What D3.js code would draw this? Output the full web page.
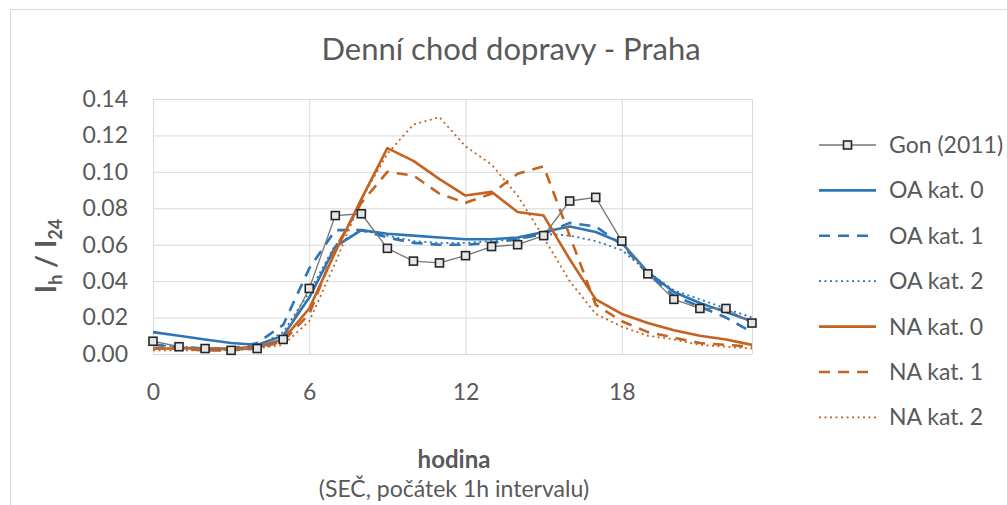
<!DOCTYPE html>
<html lang="cs">
<head>
<meta charset="UTF-8">
<title>Denní chod dopravy - Praha</title>
<script src="https://cdn.jsdelivr.net/npm/d3@7"></script>
<style>
  body { margin: 0; background: #fff; }
  text { font-family: Lato, "Liberation Sans", sans-serif; fill: #595959; }
</style>
</head>
<body>
<svg id="chart" width="1007" height="505"></svg>
<script>
// hodiny (začátek 1h intervalu)
var hours = [0,1,2,3,4,5,6,7,8,9,10,11,12,13,14,15,16,17,18,19,20,21,22,23];
var xTicks = [0, 6, 12, 18];
var yTicks = [0, 0.02, 0.04, 0.06, 0.08, 0.10, 0.12, 0.14];

// hodnoty Ih / I24
var gon = [0.007,0.004,0.003,0.002,0.003,0.008,0.036,0.076,0.077,0.058,0.051,0.050,0.054,0.059,0.060,0.065,0.084,0.086,0.062,0.044,0.030,0.025,0.025,0.017];
var oa0 = [0.012,0.010,0.008,0.006,0.005,0.010,0.031,0.059,0.068,0.066,0.065,0.064,0.063,0.063,0.064,0.067,0.070,0.067,0.061,0.045,0.034,0.028,0.023,0.018];
var oa1 = [0.005,0.004,0.003,0.003,0.006,0.016,0.047,0.068,0.068,0.064,0.061,0.060,0.060,0.061,0.063,0.066,0.072,0.070,0.060,0.044,0.032,0.026,0.020,0.012];
var oa2 = [0.005,0.004,0.003,0.003,0.004,0.012,0.034,0.060,0.068,0.065,0.062,0.061,0.061,0.062,0.063,0.066,0.065,0.062,0.057,0.045,0.035,0.030,0.025,0.020];
var na0 = [0.003,0.003,0.003,0.003,0.004,0.008,0.025,0.056,0.085,0.113,0.106,0.096,0.087,0.089,0.078,0.076,0.052,0.030,0.022,0.017,0.013,0.010,0.008,0.005];
var na1 = [0.003,0.003,0.002,0.002,0.003,0.007,0.022,0.058,0.083,0.100,0.098,0.088,0.083,0.088,0.099,0.103,0.065,0.027,0.018,0.012,0.009,0.006,0.005,0.004];
var na2 = [0.002,0.002,0.002,0.002,0.003,0.005,0.018,0.050,0.085,0.110,0.126,0.130,0.114,0.104,0.087,0.064,0.040,0.022,0.015,0.010,0.008,0.005,0.004,0.003];

var blue = '#2e75b6', orange = '#c5621f';

// řady v pořadí legendy
var series = [
  { name: 'Gon (2011)', values: gon, color: '#767676', width: 1.3, dash: null, marker: true },
  { name: 'OA kat. 0', values: oa0, color: blue, width: 2.6, dash: null },
  { name: 'OA kat. 1', values: oa1, color: blue, width: 2.6, dash: '11,8' },
  { name: 'OA kat. 2', values: oa2, color: blue, width: 1.8, dash: '2,3.5' },
  { name: 'NA kat. 0', values: na0, color: orange, width: 2.6, dash: null },
  { name: 'NA kat. 1', values: na1, color: orange, width: 2.6, dash: '11,8' },
  { name: 'NA kat. 2', values: na2, color: orange, width: 1.8, dash: '2,3.5' }
];

var svg = d3.select('#chart');

// rámeček grafu
svg.append('rect')
  .attr('x', 10.5).attr('y', 9.5)
  .attr('width', 1100).attr('height', 600)
  .attr('fill', 'none').attr('stroke', '#d9d9d9');

var plotL = 153, plotR = 752, plotT = 99, plotB = 354;
var x = d3.scaleLinear().domain([0, 23]).range([plotL, plotR]);
var y = d3.scaleLinear().domain([0, 0.14]).range([plotB, plotT]);

// mřížka
svg.append('g')
  .attr('transform', 'translate(' + plotL + ',0)')
  .call(d3.axisLeft(y).tickValues(yTicks).tickSize(-(plotR - plotL)).tickFormat(''))
  .call(function (g) {
    g.select('.domain').remove();
    g.selectAll('line').attr('stroke', '#d9d9d9');
  });
svg.append('g')
  .attr('transform', 'translate(0,' + plotB + ')')
  .call(d3.axisBottom(x).tickValues(xTicks.concat([23])).tickSize(-(plotB - plotT)).tickFormat(''))
  .call(function (g) {
    g.select('.domain').remove();
    g.selectAll('line').attr('stroke', '#d9d9d9');
  });

// popisky os
svg.append('g')
  .attr('transform', 'translate(' + plotL + ',0)')
  .call(d3.axisLeft(y).tickValues(yTicks).tickSize(0).tickPadding(25).tickFormat(d3.format('.2f')))
  .call(function (g) {
    g.select('.domain').remove();
    g.selectAll('text').attr('font-size', 23).style('fill', '#595959')
      .style('font-family', 'Lato, sans-serif');
  });
svg.append('g')
  .attr('transform', 'translate(0,' + plotB + ')')
  .call(d3.axisBottom(x).tickValues(xTicks).tickSize(0).tickPadding(30).tickFormat(d3.format('d')))
  .call(function (g) {
    g.select('.domain').remove();
    g.selectAll('text').attr('font-size', 23).style('fill', '#595959')
      .style('font-family', 'Lato, sans-serif');
  });

// čáry
var line = d3.line()
  .x(function (d, i) { return x(hours[i]); })
  .y(function (d) { return y(d); });

// nejdřív modelové řady, Gon navrch
series.slice(1).concat([series[0]]).forEach(function (s) {
  svg.append('path')
    .datum(s.values)
    .attr('d', line)
    .attr('fill', 'none')
    .attr('stroke', s.color)
    .attr('stroke-width', s.width)
    .attr('stroke-dasharray', s.dash)
    .attr('stroke-linejoin', 'round');
  if (s.marker) {
    svg.selectAll('.gon')
      .data(s.values)
      .enter().append('rect')
      .attr('class', 'gon')
      .attr('x', function (d, i) { return x(hours[i]) - 4; })
      .attr('y', function (d) { return y(d) - 4; })
      .attr('width', 8).attr('height', 8)
      .attr('fill', '#e6e6e6')
      .attr('stroke', '#262626')
      .attr('stroke-width', 1.6);
  }
});

// nadpis
svg.append('text')
  .attr('x', 511).attr('y', 60)
  .attr('text-anchor', 'middle')
  .attr('font-size', 31)
  .text('Denní chod dopravy - Praha');

// osa y - název
var yt = svg.append('text')
  .attr('transform', 'translate(56,256) rotate(-90)')
  .attr('text-anchor', 'middle')
  .attr('font-size', 28)
  .attr('font-weight', 'bold');
yt.append('tspan').text('I');
yt.append('tspan').attr('font-size', 18).attr('dy', 6).text('h');
yt.append('tspan').attr('dy', -6).text(' / I');
yt.append('tspan').attr('font-size', 18).attr('dy', 6).text('24');

// osa x - název
svg.append('text')
  .attr('x', 454).attr('y', 468)
  .attr('text-anchor', 'middle')
  .attr('font-size', 24)
  .attr('font-weight', 'bold')
  .text('hodina');
svg.append('text')
  .attr('x', 454).attr('y', 497)
  .attr('text-anchor', 'middle')
  .attr('font-size', 23)
  .text('(SEČ, počátek 1h intervalu)');

// legenda
var legend = svg.append('g');
series.forEach(function (s, i) {
  var ly = 145 + i * 45.4;
  legend.append('line')
    .attr('x1', 819).attr('x2', 876)
    .attr('y1', ly).attr('y2', ly)
    .attr('stroke', s.color)
    .attr('stroke-width', s.width)
    .attr('stroke-dasharray', s.dash);
  if (s.marker) {
    legend.append('rect')
      .attr('x', 843.5).attr('y', ly - 4)
      .attr('width', 8).attr('height', 8)
      .attr('fill', '#e6e6e6')
      .attr('stroke', '#262626')
      .attr('stroke-width', 1.6);
  }
  legend.append('text')
    .attr('x', 889).attr('y', ly + 8)
    .attr('font-size', 23)
    .text(s.name);
});
</script>
</body>
</html>
